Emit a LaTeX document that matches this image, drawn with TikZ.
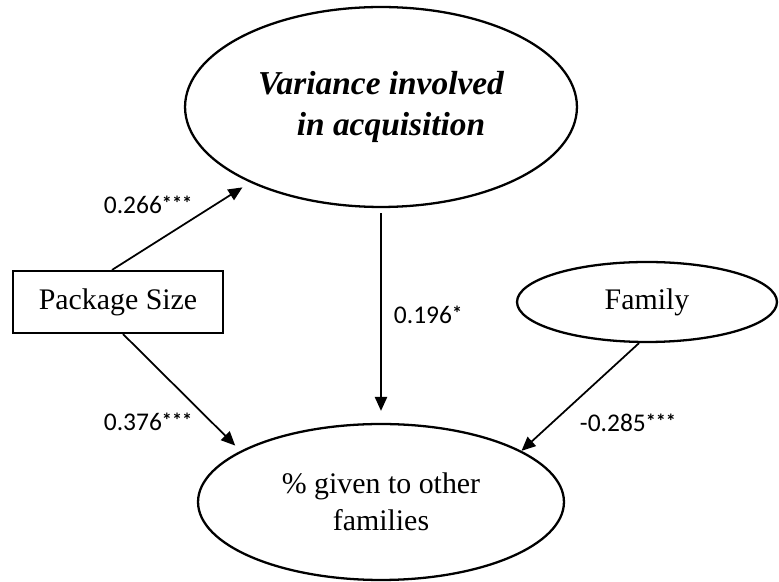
\documentclass[tikz,border=0pt]{standalone}
\usepackage{fontspec}
\setmainfont{Liberation Serif}
\newfontfamily\coeffont{Carlito}
\usetikzlibrary{
  arrows.meta,
  positioning,
  shapes.geometric
}
\tikzset{
  latent/.style={draw, ellipse, line width=1.3pt, inner sep=0pt,
    align=center, font=\fontsize{17}{21}\selectfont},
  obsbox/.style={draw, rectangle, line width=1.2pt, inner sep=0pt,
    font=\fontsize{17}{21}\selectfont},
  coef/.style={inner sep=0pt, font=\coeffont\fontsize{14.5}{17}\selectfont},
  arr/.style={-{Triangle[length=8pt, width=7pt]}, line width=1pt},
}
\newcommand{\stars}[1]{\raisebox{0.12em}{\fontsize{11.5}{11.5}\selectfont\bfseries #1}}

\begin{document}
\begin{tikzpicture}[x=0.02cm, y=0.02cm]
  \useasboundingbox (0,0) rectangle (779,582);

  % Variables
  \node[latent, minimum width=7.84cm, minimum height=4cm,
        font=\fontsize{19}{23}\selectfont\bfseries\itshape] (va) at (381,475)
    {Variance involved\\\hspace{0.6em}in acquisition};
  \node[obsbox, minimum width=4.2cm, minimum height=1.24cm] (ps) at (118,280)
    {Package Size};
  \node[latent, minimum width=5.2cm, minimum height=1.6cm] (fam) at (647,280)
    {Family};
  \node[latent, minimum width=7.32cm, minimum height=3.12cm] (pg) at (381,80)
    {\% given to other\\families};

  % Paths
  \draw[arr, shorten >=0.18cm] ([xshift=-0.12cm]ps.north) -- (va.210);
  \draw[arr, shorten >=0.15cm] ([xshift=0.1cm]ps.south) -- (pg.160);
  \draw[arr, shorten <=0.1cm, shorten >=0.24cm] (va.south) -- (pg.north);
  \draw[arr] ([xshift=-0.16cm]fam.south) -- (pg.20);

  % Coefficients
  \node[coef] (c266) at (148,377) {0.266\stars{***}};
  \node[coef] (c376) at (148,160) {0.376\stars{***}};
  \node[coef] (c196) at (428,267) {0.196\stars{*}};
  \node[coef] (c285) at (628,159) {-0.285\stars{***}};
\end{tikzpicture}
\end{document}
